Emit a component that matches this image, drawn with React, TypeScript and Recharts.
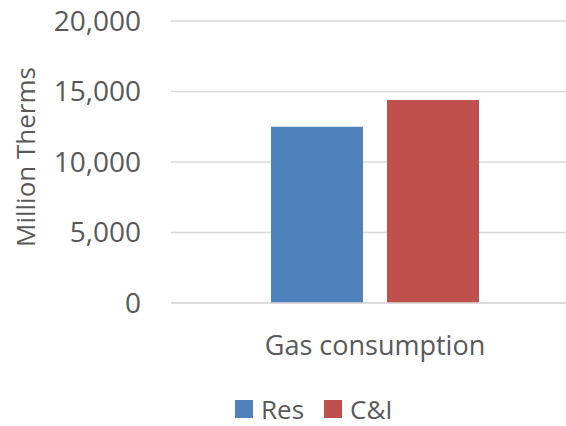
import { BarChart, Bar, XAxis, YAxis, CartesianGrid, Legend } from "recharts";

const categories = ["Gas consumption"];
const resValues = [12500];
const ciValues = [14400];
const seriesOrder = ["Res", "C&I"];
const yTicks = [0, 5000, 10000, 15000, 20000];

const data = categories.map((name, i) => ({
    name,
    Res: resValues[i],
    "C&I": ciValues[i],
}));

const FONT = "'Open Sans', sans-serif";
const GREY = "#595959";

const fmt = (v: number) => v.toLocaleString("en-US");

function LegendContent({ payload }: any) {
    const items = [...(payload || [])].sort(
        (a: any, b: any) => seriesOrder.indexOf(a.value) - seriesOrder.indexOf(b.value)
    );
    return (
        <div style={{ display: "flex", marginLeft: 235, marginTop: 15, fontFamily: FONT, fontSize: 26, color: GREY, lineHeight: "normal" }}>
            {items.map((p: any, i: number) => (
                <div key={i} style={{ display: "flex", alignItems: "center", marginRight: 20 }}>
                    <span style={{ width: 18, height: 18, background: p.color, display: "inline-block", marginRight: 8 }} />
                    <span>{p.value}</span>
                </div>
            ))}
        </div>
    );
}

export default function App() {
    return (
        <div style={{ position: "absolute", left: 0, top: 0, width: 566, height: 426, overflow: "hidden", background: "#fff" }}>
            <BarChart
                width={600}
                height={426}
                data={data}
                margin={{ top: 21, right: 21, left: 0, bottom: 0 }}
                barCategoryGap={100}
                barGap={24}
            >
                <CartesianGrid vertical={false} stroke="#D9D9D9" strokeWidth={1.5} />
                <XAxis
                    dataKey="name"
                    height={73}
                    tickLine={false}
                    axisLine={{ stroke: "#D9D9D9", strokeWidth: 1.5 }}
                    tickMargin={27}
                    tick={{ fill: GREY, fontSize: 27, fontFamily: FONT }}
                />
                <YAxis
                    width={171}
                    domain={[0, 20000]}
                    ticks={yTicks}
                    tickFormatter={fmt}
                    axisLine={false}
                    tickLine={false}
                    tickMargin={24}
                    tick={{ fill: GREY, fontSize: 28, fontFamily: FONT }}
                    label={{
                        content: (props: any) => {
                            const vb = props.viewBox;
                            const cy = vb.y + vb.height / 2 - 5;
                            return (
                                <text
                                    x={25}
                                    y={cy}
                                    transform={`rotate(-90, 25, ${cy})`}
                                    textAnchor="middle"
                                    dominantBaseline="central"
                                    fill={GREY}
                                    fontSize={26}
                                    fontFamily={FONT}
                                >
                                    Million Therms
                                </text>
                            );
                        },
                    }}
                />
                <Bar dataKey="Res" fill="#4F81BD" isAnimationActive={false} />
                <Bar dataKey="C&I" fill="#C0504D" isAnimationActive={false} />
                <Legend
                    verticalAlign="bottom"
                    height={50}
                    content={<LegendContent />}
                    wrapperStyle={{ left: 0, width: 600 }}
                />
            </BarChart>
        </div>
    );
}
